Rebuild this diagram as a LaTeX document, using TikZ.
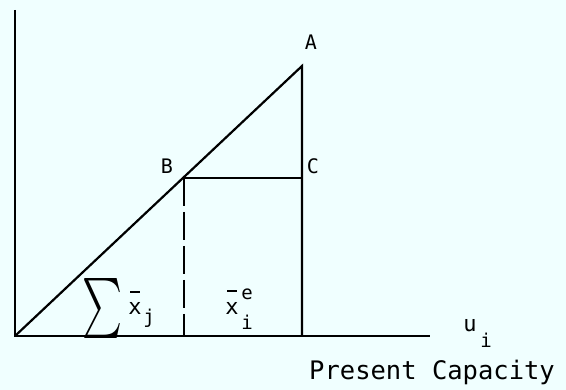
\documentclass[tikz,border=0pt]{standalone}
\usepackage{fontspec}
\usepackage{graphicx}
\newfontfamily\monof{DejaVu Sans Mono}
\definecolor{bg}{RGB}{240,255,255}
\begin{document}
\begin{tikzpicture}[x=1pt,y=-1pt,
  ln/.style={line width=2.2pt,black},
  lbl/.style={font=\monof\fontsize{20}{20}\selectfont,inner sep=0pt},
  big/.style={font=\monof\fontsize{22}{22}\selectfont,inner sep=0pt},
  sml/.style={font=\monof\fontsize{19}{19}\selectfont,inner sep=0pt},
  barline/.style={line width=1.8pt}]
\fill[bg] (0,0) rectangle (566,390);
\useasboundingbox (0,0) rectangle (566,390);
\coordinate (top) at (15,10);
\coordinate (O) at (15,336);
\coordinate (xend) at (430,336);
\coordinate (A) at (302,66);
\coordinate (B) at (184,178);
\coordinate (C) at (302,178);
\coordinate (Bd) at (184,336);
\coordinate (Ad) at (302,336);
\draw[ln] (top) -- (O) -- (xend);
\draw[ln] (O) -- (A) -- (Ad);
\draw[ln] (B) -- (C);
\draw[ln,dash pattern=on 28pt off 6pt] (B) -- (Bd);
\node[lbl] (lA) at (311,42) {A};
\node[lbl] (lB) at (167,166) {B};
\node[lbl] (lC) at (313,166) {C};
\node[inner sep=0pt] (sig) at (103,309) {\resizebox{40pt}{45pt}{$\sum$}};
\node[big] (xj) at (135,308) {x};
\coordinate (bj1) at (130,292);
\coordinate (bj2) at (140,292);
\draw[barline] (bj1) -- (bj2);
\node[sml] (j) at (149,318) {j};
\node[big] (xi) at (232,308) {x};
\coordinate (bi1) at (227,291);
\coordinate (bi2) at (237,291);
\draw[barline] (bi1) -- (bi2);
\node[sml] (e) at (247,294) {e};
\node[sml] (i1) at (247,322) {i};
\node[big] (u) at (470,326) {u};
\node[sml] (i2) at (486,340) {i};
\node[font=\monof\fontsize{25.5}{25.5}\selectfont,inner sep=0pt,anchor=base west] (pc) at (309,380) {Present Capacity};
\end{tikzpicture}
\end{document}
